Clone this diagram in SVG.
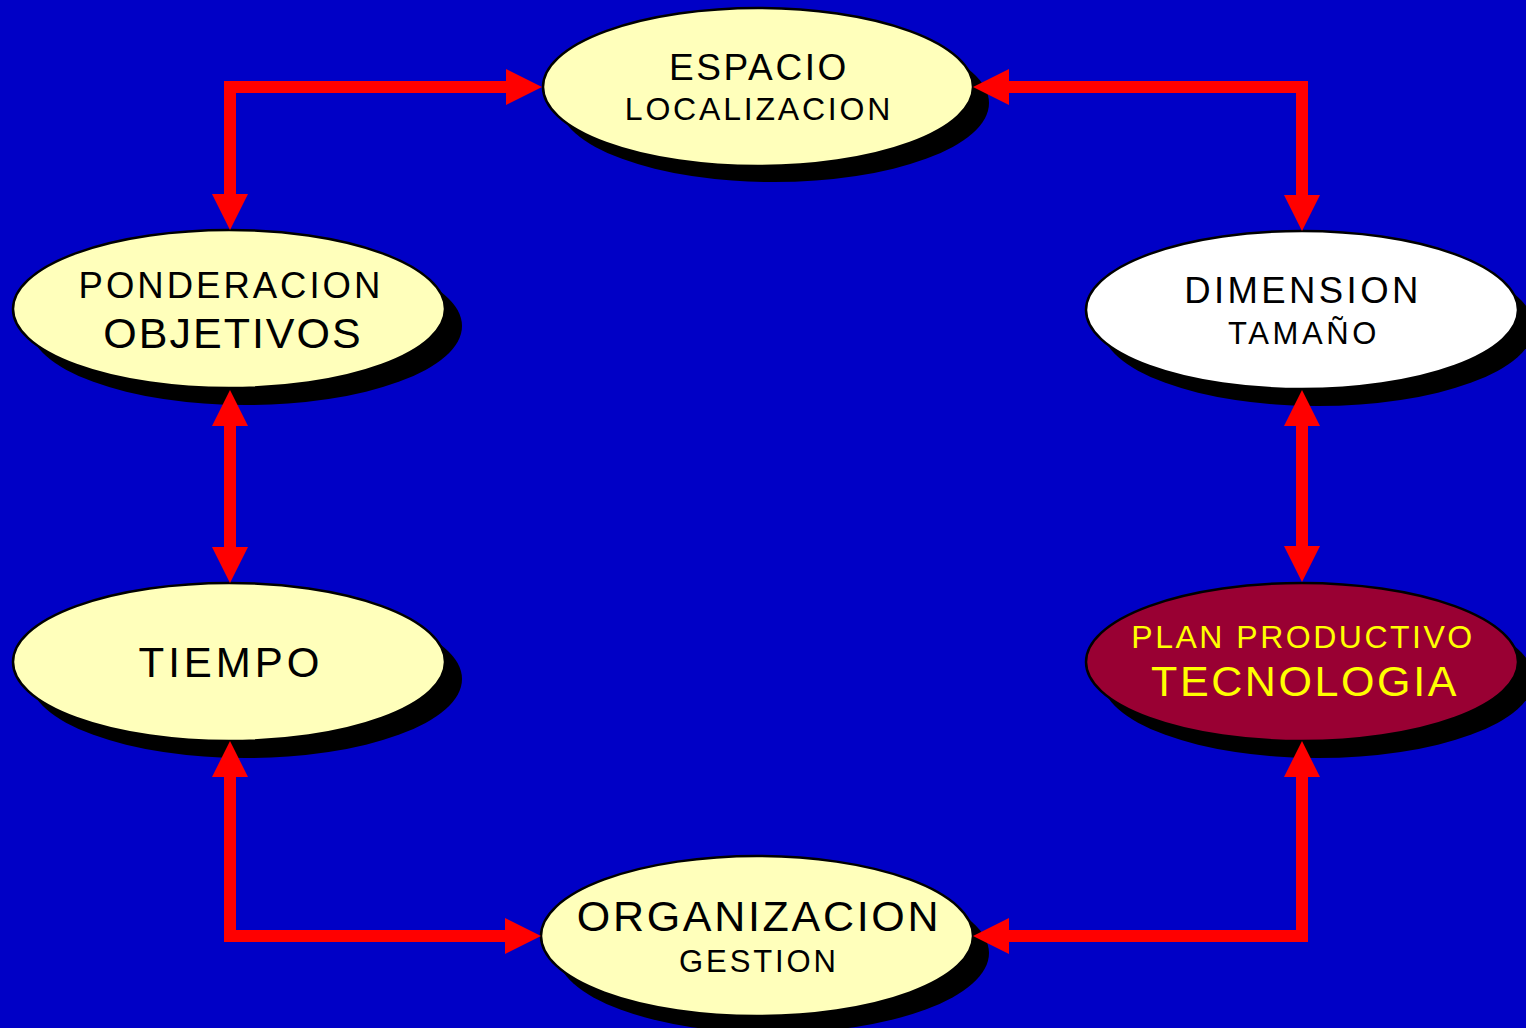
<svg xmlns="http://www.w3.org/2000/svg" width="1526" height="1028" viewBox="0 0 1526 1028">
<style>
.sh{fill:#000}
.el{fill:#FFFFBB;stroke:#000;stroke-width:2.5}
.wh{fill:#FFFFFF}
.tc{fill:#990033}
text{font-family:"Liberation Sans",Arial,sans-serif;text-anchor:middle;fill:#000}
.y{fill:#FFFF00}
.con{fill:none;stroke:#FF0000;stroke-width:12;stroke-linejoin:miter;marker-start:url(#ah);marker-end:url(#ah)}
</style>
<defs>
<marker id="ah" viewBox="0 0 36 36" refX="0" refY="18" markerWidth="36" markerHeight="36" markerUnits="userSpaceOnUse" orient="auto-start-reverse">
<path d="M0,0 L36,18 L0,36 Z" fill="#FF0000"/>
</marker>
</defs>
<rect width="1526" height="1028" fill="#0000C6"/>
<g id="espacio">
<ellipse class="sh" cx="774" cy="103" rx="215" ry="79"/>
<ellipse class="el" cx="758" cy="87" rx="215" ry="79"/>
<text x="759" y="80" font-size="37" letter-spacing="2.6">ESPACIO</text>
<text x="759" y="120" font-size="32" letter-spacing="2.8">LOCALIZACION</text>
</g>
<g id="ponderacion">
<ellipse class="sh" cx="246" cy="326" rx="216" ry="79"/>
<ellipse class="el" cx="229" cy="309" rx="216" ry="79"/>
<text x="231" y="298" font-size="36.5" letter-spacing="3">PONDERACION</text>
<text x="233" y="348" font-size="43" letter-spacing="2">OBJETIVOS</text>
</g>
<g id="dimension">
<ellipse class="sh" cx="1318" cy="327" rx="216" ry="79"/>
<ellipse class="el wh" cx="1302" cy="310" rx="216" ry="79"/>
<text x="1303" y="303" font-size="36.5" letter-spacing="3.4">DIMENSION</text>
<text x="1304" y="344" font-size="31" letter-spacing="3.6">TAMAÑO</text>
</g>
<g id="tiempo">
<ellipse class="sh" cx="246" cy="679" rx="216" ry="79"/>
<ellipse class="el" cx="229" cy="662" rx="216" ry="79"/>
<text x="231" y="677" font-size="42" letter-spacing="4">TIEMPO</text>
</g>
<g id="tecnologia">
<ellipse class="sh" cx="1318" cy="679" rx="216" ry="79"/>
<ellipse class="el tc" cx="1302" cy="662" rx="216" ry="79"/>
<text class="y" x="1303" y="648" font-size="32" letter-spacing="2.5">PLAN PRODUCTIVO</text>
<text class="y" x="1305" y="696" font-size="43" letter-spacing="2.6">TECNOLOGIA</text>
</g>
<g id="organizacion">
<ellipse class="sh" cx="773" cy="953" rx="216" ry="80"/>
<ellipse class="el" cx="757" cy="936" rx="216" ry="80"/>
<text x="759" y="931" font-size="43" letter-spacing="2.7">ORGANIZACION</text>
<text x="759" y="972" font-size="31" letter-spacing="2.9">GESTION</text>
</g>
<g id="connectors">
<path class="con" d="M506,87 H230 V194"/>
<path class="con" d="M1009,87 H1302 V195"/>
<path class="con" d="M230,426 V547"/>
<path class="con" d="M1302,426 V546"/>
<path class="con" d="M230,777 V936 H505"/>
<path class="con" d="M1302,777 V936 H1009"/>
</g>
</svg>
